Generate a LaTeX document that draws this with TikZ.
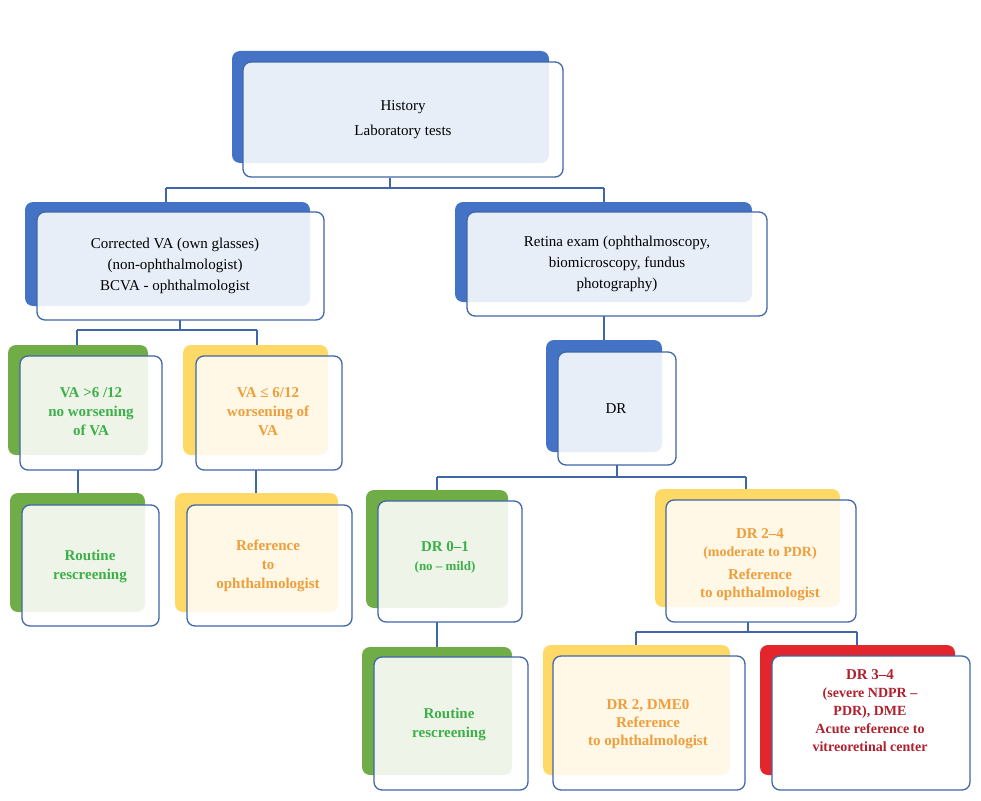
\documentclass[tikz,border=0pt]{standalone}
\usepackage{fontspec}
\setmainfont{Liberation Serif}
\begin{document}
\definecolor{bblue}{HTML}{4472C4}
\definecolor{lblue}{HTML}{E8EEF8}
\definecolor{bgreen}{HTML}{70AD47}
\definecolor{lgreen}{HTML}{EEF5E8}
\definecolor{byel}{HTML}{FFD966}
\definecolor{lyel}{HTML}{FFF8E6}
\definecolor{bred}{HTML}{E3262B}
\definecolor{tgreen}{HTML}{3DAF4A}
\definecolor{torange}{HTML}{EE9E3C}
\definecolor{tred}{HTML}{B0202E}
\definecolor{frame}{HTML}{3F66A8}
\newcommand{\mybox}[8]{% name, back color, light color, B x1,y1, F x1,y1,x2,y2 ; back size = front size
  \fill[#2,rounded corners=8pt] (#4,#5) rectangle ++(#8-#6,#7-#6);
}
\begin{tikzpicture}[x=1pt,y=-1pt,
  frm/.style={draw=frame,line width=1.3pt,rounded corners=8pt},
  con/.style={draw=frame,line width=1.6pt},
  txt/.style={align=center,font=\fontsize{15}{21}\selectfont},
  btxt/.style={align=center,font=\bfseries\fontsize{15}{21}\selectfont}]
\useasboundingbox (0,0) rectangle (981,800);
% generic box: back (bx1,by1,bx2,by2), front (fx1,fy1,fx2,fy2)
\def\dobox#1#2#3#4#5#6#7#8#9{%
  \fill[#1,rounded corners=8pt] (#2,#3) rectangle (#4,#5);
  \fill[white,rounded corners=8pt] (#6,#7) rectangle (#8,#9);
  \begin{scope}
    \clip[rounded corners=8pt] (#2,#3) rectangle (#4,#5);
    \fill[\lightc,rounded corners=8pt] (#6,#7) rectangle (#8,#9);
  \end{scope}
  \draw[frm] (#6,#7) rectangle (#8,#9);}
% connectors
\coordinate (t1) at (390,178); \coordinate (t2) at (390,188);
\draw[con] (390,178) -- (390,188) (166,188) -- (604,188) (166,188) -- (166,202) (604,188) -- (604,202);
\draw[con] (180,320) -- (180,330) (77,330) -- (257,330) (77,330) -- (77,345) (257,330) -- (257,345);
\draw[con] (604,316) -- (604,340);
\draw[con] (617,465) -- (617,477) (437,477) -- (746,477) (437,477) -- (437,490) (746,477) -- (746,489);
\draw[con] (78,470) -- (78,493) (256,470) -- (256,493) (437,622) -- (437,647);
\draw[con] (748,622) -- (748,632) (636,632) -- (857,632) (636,632) -- (636,645) (857,632) -- (857,645);
% boxes
\def\lightc{lblue}
\dobox{bblue}{232}{51}{549}{163}{243}{62}{563}{177}
\dobox{bblue}{25}{202}{310}{306}{37}{212}{324}{320}
\dobox{bblue}{455}{202}{752}{302}{467}{212}{767}{316}
\dobox{bblue}{546}{340}{662}{452}{558}{352}{676}{465}
\def\lightc{lgreen}
\dobox{bgreen}{8}{345}{148}{455}{20}{356}{162}{470}
\dobox{bgreen}{10}{493}{145}{612}{22}{505}{159}{626}
\dobox{bgreen}{366}{490}{508}{608}{378}{501}{522}{622}
\dobox{bgreen}{362}{647}{512}{775}{374}{657}{528}{790}
\def\lightc{lyel}
\dobox{byel}{183}{345}{328}{455}{196}{356}{342}{470}
\dobox{byel}{175}{493}{338}{612}{187}{505}{352}{626}
\dobox{byel}{655}{489}{840}{607}{666}{500}{856}{622}
\dobox{byel}{543}{645}{730}{775}{553}{656}{745}{790}
\def\lightc{white}
\dobox{bred}{760}{645}{955}{775}{772}{656}{970}{790}
% texts
\node[txt] (n1) at (403,120) {History\\[4pt]Laboratory tests};
\node[txt] (n2) at (175,266) {Corrected VA (own glasses)\\ (non-ophthalmologist)\\BCVA - ophthalmologist};
\node[txt] (n3) at (617,264) {Retina exam (ophthalmoscopy,\\biomicroscopy, fundus\\photography)};
\node[txt] (n4) at (616,409) {DR};
\node[btxt,text=tgreen] (n5) at (91,412) {VA >6 /12\\[-2pt]no worsening\\[-2pt]of VA};
\node[btxt,text=torange] (n6) at (268,412) {VA ≤ 6/12\\[-2pt]worsening of\\[-2pt]VA};
\node[btxt,text=tgreen] (n7) at (90,566) {Routine\\[-2pt]rescreening};
\node[btxt,text=torange] (n8) at (268,566) {Reference\\[-2pt]to\\[-2pt]ophthalmologist};
\node[btxt,text=tgreen] (n9) at (445,557) {DR 0–1\\[-2pt]\normalfont\bfseries\fontsize{13}{18}\selectfont(no – mild)};
\node[btxt,text=torange] (n10) at (760,565) {DR 2–4\\[-3pt]\fontsize{14}{18}\selectfont(moderate to PDR)\\[2pt]Reference\\[-3pt]to ophthalmologist};
\node[btxt,text=tgreen] (n11) at (449,724) {Routine\\[-2pt]rescreening};
\node[btxt,text=torange] (n12) at (648,724) {DR 2, DME0\\[-3pt]Reference\\[-3pt]to ophthalmologist};
\node[btxt,text=tred] (n13) at (870,711) {DR 3–4\\[-3pt]\fontsize{14}{18}\selectfont(severe NDPR –\\[-3pt]\fontsize{14}{18}\selectfont PDR), DME\\[-3pt]\fontsize{14}{18}\selectfont Acute reference to\\[-3pt]\fontsize{14}{18}\selectfont vitreoretinal center};
\end{tikzpicture}
\end{document}
